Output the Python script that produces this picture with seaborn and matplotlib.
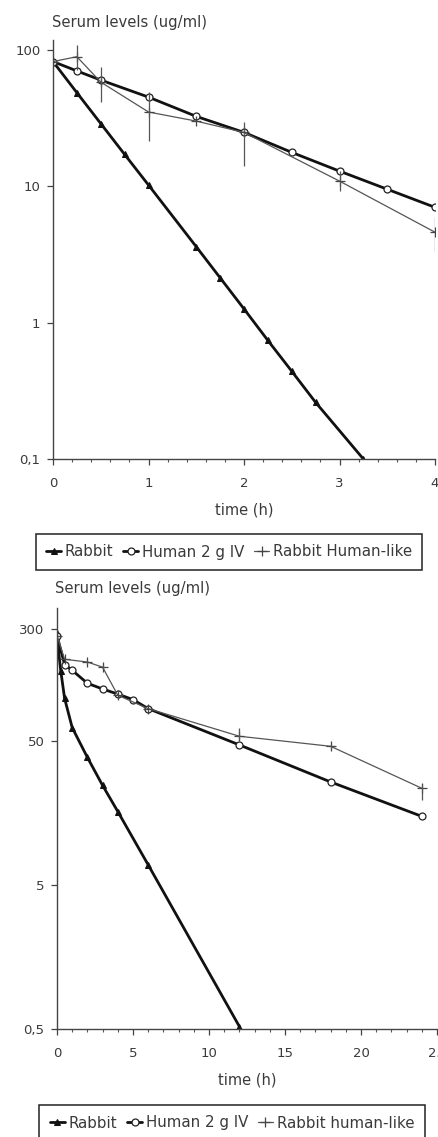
import matplotlib
matplotlib.use("Agg")
import matplotlib.pyplot as plt
import matplotlib.ticker as mticker
import seaborn as sns
import pandas as pd
import numpy as np

# ---------------- data: top panel (0-4 h) ----------------
top_rabbit_t = [0, 0.25, 0.5, 0.75, 1, 1.5, 1.75, 2, 2.25, 2.5, 2.75, 3.25]
top_rabbit_v = [82, 48.5, 28.8, 17.1, 10.2, 3.6, 2.13, 1.26, 0.74, 0.44, 0.26, 0.1]

top_human_t = [0, 0.25, 0.5, 1, 1.5, 2, 2.5, 3, 3.5, 4]
top_human_v = [82, 70, 60, 45, 32.5, 24.8, 17.7, 12.9, 9.5, 7.0]

top_hlike_t = [0, 0.25, 0.5, 1, 1.5, 2, 3, 4]
top_hlike_v = [82, 89, 58, 35, 30, 24.8, 10.9, 4.6]
top_hlike_lo = [0, 18, 16.4, 13.7, 0, 10.8, 1.7, 1.3]
top_hlike_hi = [0, 19, 17, 14, 0, 5.0, 2.0, 1.3]

top_labels = ["Rabbit", "Human 2 g IV", "Rabbit Human-like"]
top_yticks = [0.1, 1, 10, 100]
top_yticklabels = ["0,1", "1", "10", "100"]
top_xticks = [0, 1, 2, 3, 4]

# ---------------- data: bottom panel (0-24 h) ----------------
bot_rabbit_t = [0, 0.083, 0.25, 0.5, 1, 2, 3, 4, 6, 12]
bot_rabbit_v = [280, 220, 153, 99, 62, 38.5, 24.6, 16.2, 6.9, 0.52]

bot_human_t = [0, 0.5, 1, 2, 3, 4, 5, 6, 12, 18, 24]
bot_human_v = [270, 170, 155, 126, 115, 106, 97, 84, 47, 26, 15]

bot_hlike_t = [0, 0.5, 2, 3, 4, 6, 12, 18, 24]
bot_hlike_v = [270, 185, 177, 163, 104, 84, 54, 46, 23.5]
bot_hlike_lo = [0, 0, 5, 5, 0, 0, 3, 2, 4]
bot_hlike_hi = [0, 0, 5, 5, 0, 0, 8, 2, 1.5]

bot_labels = ["Rabbit", "Human 2 g IV", "Rabbit human-like"]
bot_yticks = [0.5, 5, 50, 300]
bot_yticklabels = ["0,5", "5", "50", "300"]
bot_xticks = [0, 5, 10, 15, 20, 25]

title_text = "Serum levels (ug/ml)"
xlabel_text = "time (h)"

# ---------------- style ----------------
sns.set_style("ticks")
plt.rcParams["font.family"] = ["DejaVu Sans"]
TXT = "#3a3a3a"
plt.rcParams["text.color"] = TXT
plt.rcParams["xtick.color"] = TXT
plt.rcParams["ytick.color"] = TXT
plt.rcParams["axes.labelcolor"] = TXT

W, H = 438, 1137
fig = plt.figure(figsize=(W / 100, H / 100), dpi=100)


def frac_rect(x0, x1, y0, y1):
    return [x0 / W, 1 - y1 / H, (x1 - x0) / W, (y1 - y0) / H]


ax_top = fig.add_axes(frac_rect(53, 435, 40, 459))
ax_bot = fig.add_axes(frac_rect(57, 437, 608, 1029))


def draw_panel(ax, rt, rv, ht, hv, lt, lv, llo, lhi, labels):
    df_r = pd.DataFrame({"t": rt, "v": rv})
    df_h = pd.DataFrame({"t": ht, "v": hv})
    df_l = pd.DataFrame({"t": lt, "v": lv})
    sns.lineplot(data=df_r, x="t", y="v", ax=ax, color="#111111", lw=2.0,
                 marker="^", markersize=4.5, markeredgecolor="#111111",
                 markerfacecolor="#111111", label=labels[0], sort=False)
    sns.lineplot(data=df_h, x="t", y="v", ax=ax, color="#111111", lw=2.0,
                 marker="o", markersize=5, markeredgecolor="#222222",
                 markerfacecolor="white", markeredgewidth=0.9,
                 label=labels[1], sort=False)
    sns.lineplot(data=df_l, x="t", y="v", ax=ax, color="#555555", lw=0.9,
                 marker="+", markersize=7, markeredgewidth=0.9,
                 markeredgecolor="#444444", label=labels[2], sort=False)
    ax.errorbar(lt, lv, yerr=[llo, lhi], fmt="none", ecolor="#555555",
                elinewidth=0.9, capsize=0)
    ax.set_yscale("log")
    for side in ("top", "right"):
        ax.spines[side].set_visible(False)
    for side in ("left", "bottom"):
        ax.spines[side].set_color("#444444")
        ax.spines[side].set_linewidth(1.0)
    ax.set_ylabel("")
    ax.tick_params(axis="both", which="major", length=4, width=0.9,
                   labelsize=9.5, direction="out", colors="#444444",
                   labelcolor=TXT)
    ax.tick_params(axis="x", which="major", pad=9)
    ax.tick_params(axis="y", which="major", pad=5)
    ax.tick_params(axis="x", which="minor", length=2.5, width=0.8,
                   colors="#555555")
    ax.tick_params(axis="y", which="minor", length=0)
    ax.set_xlabel(xlabel_text, fontsize=10.5, labelpad=9)
    leg = ax.get_legend()
    if leg is not None:
        leg.remove()


draw_panel(ax_top, top_rabbit_t, top_rabbit_v, top_human_t, top_human_v,
           top_hlike_t, top_hlike_v, top_hlike_lo, top_hlike_hi, top_labels)
ax_top.set_xlim(0, 4)
ax_top.set_ylim(0.1, 118)
ax_top.set_xticks(top_xticks)
ax_top.xaxis.set_minor_locator(mticker.MultipleLocator(0.2))
ax_top.set_yticks(top_yticks)
ax_top.set_yticklabels(top_yticklabels)
ax_top.yaxis.set_minor_locator(mticker.NullLocator())

draw_panel(ax_bot, bot_rabbit_t, bot_rabbit_v, bot_human_t, bot_human_v,
           bot_hlike_t, bot_hlike_v, bot_hlike_lo, bot_hlike_hi, bot_labels)
ax_bot.set_xlim(0, 25)
ax_bot.set_ylim(0.5, 420)
ax_bot.set_xticks(bot_xticks)
ax_bot.xaxis.set_minor_locator(mticker.MultipleLocator(1))
ax_bot.set_yticks(bot_yticks)
ax_bot.set_yticklabels(bot_yticklabels)
ax_bot.yaxis.set_minor_locator(mticker.NullLocator())

# titles
fig.text(52 / W, 1 - 22 / H, title_text, fontsize=10.6, ha="left", va="center")
fig.text(55 / W, 1 - 589 / H, title_text, fontsize=10.6, ha="left", va="center")

# legends
for ax, (xc, yc) in ((ax_top, (229, 552)), (ax_bot, (232, 1123))):
    handles, labels = ax.get_legend_handles_labels()
    leg = fig.legend(handles, labels, loc="center",
                     bbox_to_anchor=(xc / W, 1 - yc / H),
                     ncol=3, fontsize=10.8, frameon=True,
                     fancybox=False, edgecolor="#222222", framealpha=1,
                     handlelength=1.0, handletextpad=0.25, columnspacing=0.65,
                     borderpad=0.7, borderaxespad=0)
    leg.get_frame().set_linewidth(1.1)

fig.savefig("out.png", dpi=100)
